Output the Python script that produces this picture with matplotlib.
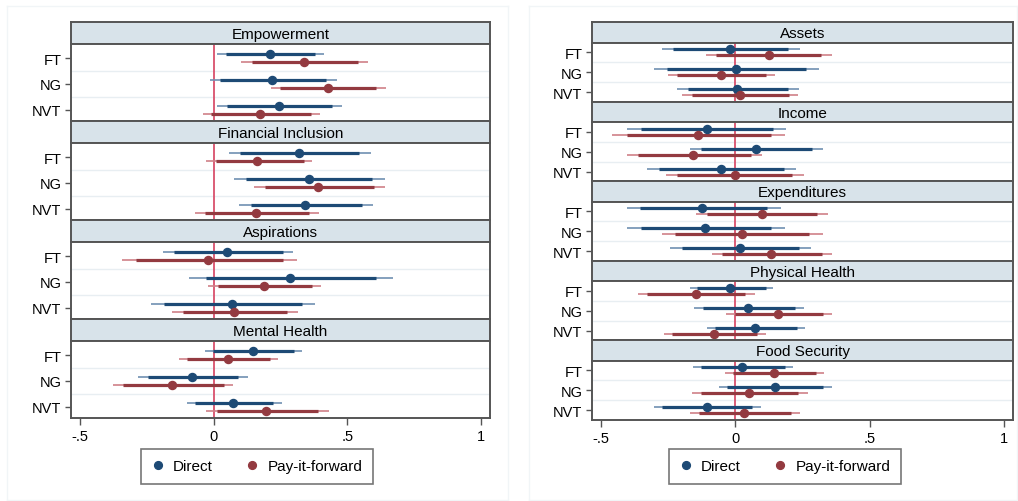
import matplotlib
matplotlib.use("Agg")
import matplotlib.pyplot as plt
from matplotlib.lines import Line2D

plt.rcParams['font.family'] = ['Liberation Sans', 'DejaVu Sans']

groups = ['FT', 'NG', 'NVT']
xtick_vals = [-0.5, 0, 0.5, 1]
xtick_labels = ['-.5', '0', '.5', '1']
series_names = ['Direct', 'Pay-it-forward']

# ---- left block ----
outcomes_L = ['Empowerment', 'Financial Inclusion', 'Aspirations', 'Mental Health']
direct_est_L = [[0.21, 0.219, 0.246], [0.32, 0.355, 0.341], [0.05, 0.285, 0.07], [0.148, -0.081, 0.073]]
direct_lo90_L = [[0.048, 0.023, 0.051], [0.10, 0.12, 0.138], [-0.149, -0.028, -0.184], [-0.003, -0.246, -0.069]]
direct_hi90_L = [[0.379, 0.42, 0.441], [0.544, 0.593, 0.554], [0.258, 0.606, 0.329], [0.301, 0.093, 0.223]]
direct_lo95_L = [[0.013, -0.015, 0.013], [0.056, 0.075, 0.095], [-0.19, -0.093, -0.234], [-0.034, -0.281, -0.10]]
direct_hi95_L = [[0.413, 0.46, 0.48], [0.588, 0.639, 0.595], [0.298, 0.669, 0.378], [0.331, 0.128, 0.254]]
pif_est_L = [[0.338, 0.426, 0.175], [0.164, 0.391, 0.16], [-0.021, 0.188, 0.078], [0.054, -0.154, 0.196]]
pif_lo90_L = [[0.144, 0.248, -0.011], [0.008, 0.191, -0.031], [-0.29, 0.016, -0.115], [-0.099, -0.338, 0.011]]
pif_hi90_L = [[0.538, 0.608, 0.363], [0.338, 0.60, 0.358], [0.258, 0.366, 0.275], [0.21, 0.038, 0.391]]
pif_lo95_L = [[0.104, 0.213, -0.041], [-0.03, 0.15, -0.071], [-0.343, -0.02, -0.155], [-0.129, -0.375, -0.028]]
pif_hi95_L = [[0.576, 0.644, 0.398], [0.369, 0.64, 0.395], [0.311, 0.403, 0.314], [0.239, 0.074, 0.43]]

# ---- right block ----
outcomes_R = ['Assets', 'Income', 'Expenditures', 'Physical Health', 'Food Security']
direct_est_R = [[-0.021, 0.001, 0.007], [-0.107, 0.077, -0.055], [-0.122, -0.112, 0.019], [-0.021, 0.046, 0.072], [0.025, 0.146, -0.107]]
direct_lo90_R = [[-0.23, -0.253, -0.176], [-0.352, -0.129, -0.284], [-0.354, -0.352, -0.199], [-0.143, -0.12, -0.077], [-0.127, -0.03, -0.272]]
direct_hi90_R = [[0.196, 0.262, 0.197], [0.141, 0.285, 0.18], [0.119, 0.134, 0.237], [0.113, 0.221, 0.23], [0.186, 0.326, 0.063]]
direct_lo95_R = [[-0.272, -0.304, -0.216], [-0.403, -0.17, -0.329], [-0.402, -0.402, -0.242], [-0.17, -0.154, -0.106], [-0.158, -0.062, -0.304]]
direct_hi95_R = [[0.24, 0.311, 0.237], [0.19, 0.326, 0.225], [0.169, 0.185, 0.283], [0.139, 0.254, 0.259], [0.215, 0.361, 0.094]]
pif_est_R = [[0.125, -0.055, 0.016], [-0.138, -0.156, -0.001], [0.099, 0.025, 0.134], [-0.148, 0.16, -0.081], [0.143, 0.051, 0.034]]
pif_lo90_R = [[-0.071, -0.217, -0.161], [-0.403, -0.362, -0.217], [-0.105, -0.223, -0.051], [-0.328, 0.0, -0.235], [-0.009, -0.127, -0.135]]
pif_hi90_R = [[0.32, 0.113, 0.199], [0.134, 0.06, 0.212], [0.304, 0.274, 0.324], [0.037, 0.326, 0.081], [0.299, 0.235, 0.208]]
pif_lo95_R = [[-0.108, -0.25, -0.197], [-0.458, -0.403, -0.259], [-0.148, -0.273, -0.086], [-0.362, -0.034, -0.267], [-0.037, -0.161, -0.168]]
pif_hi95_R = [[0.361, 0.146, 0.233], [0.186, 0.1, 0.257], [0.346, 0.326, 0.361], [0.072, 0.36, 0.114], [0.33, 0.27, 0.242]]

BLUE = '#1d4a75'
RED = '#933a40'
BLUE_L = '#6f90b2'
RED_L = '#cf8088'
ZERO = '#d9506c'
STRIP = '#d8e3ea'
FRAME = '#555555'
GRID = '#e8eef2'

W, H = 1018, 502
fig = plt.figure(figsize=(W / 100, H / 100), dpi=100)
fig.patch.set_facecolor('white')


def fa(x0, y0, x1, y1):
    """pixel box -> figure fraction rect"""
    return [x0 / W, 1 - y1 / H, (x1 - x0) / W, (y1 - y0) / H]


# faint outer graph-region borders
for (x0, x1) in [(7, 508), (529, 1017)]:
    ax_bg = fig.add_axes(fa(x0, 7, x1, 501), zorder=-5)
    ax_bg.set_xticks([]); ax_bg.set_yticks([])
    for s in ax_bg.spines.values():
        s.set_color('#f1f5f7'); s.set_linewidth(1.0)
    ax_bg.patch.set_alpha(0)


def draw_block(x0, x1, top, bottom, header_h, outcomes, series, ylim, legend_cx):
    n = len(outcomes)
    ph = (bottom - top) / n
    off = 0.15
    for i, name in enumerate(outcomes):
        pt = top + i * ph
        hax = fig.add_axes(fa(x0, pt, x1, pt + header_h))
        hax.set_facecolor(STRIP)
        hax.set_xticks([]); hax.set_yticks([])
        for s in hax.spines.values():
            s.set_color(FRAME); s.set_linewidth(1.4)
        hax.text(0.5, 0.47, name, ha='center', va='center', fontsize=11, transform=hax.transAxes)

        ax = fig.add_axes(fa(x0, pt + header_h, x1, pt + ph))
        ax.set_xlim(-0.533, 1.033)
        ax.set_ylim(*ylim)
        for s in ax.spines.values():
            s.set_color(FRAME); s.set_linewidth(1.4)
        ax.axvline(0, color=ZERO, lw=1.3, zorder=1)
        for yg in [1.5, 2.5]:
            ax.axhline(yg, color=GRID, lw=1.0, zorder=0)
        for k, (est, lo90, hi90, lo95, hi95, col, coll, sgn) in enumerate(series):
            for j in range(len(groups)):
                y = (j + 1) + sgn * off
                ax.plot([lo95[i][j], hi95[i][j]], [y, y], color=coll, lw=1.2,
                        solid_capstyle='butt', zorder=2)
                ax.plot([lo90[i][j], hi90[i][j]], [y, y], color=col, lw=2.3,
                        solid_capstyle='butt', zorder=3)
                ax.plot([est[i][j]], [y], 'o', color=col, ms=5.8, mec=col, zorder=4)
        ax.set_yticks([1, 2, 3])
        ax.set_yticklabels(groups, fontsize=10.5)
        ax.tick_params(axis='y', length=4, width=1, color=FRAME, pad=3)
        ax.set_xticks(xtick_vals)
        if i == n - 1:
            ax.set_xticklabels(xtick_labels, fontsize=10.5)
            ax.tick_params(axis='x', length=5, width=1, color=FRAME, pad=3)
        else:
            ax.tick_params(axis='x', length=0, labelbottom=False)

    handles = [Line2D([], [], ls='none', marker='o', color=BLUE, ms=5.6),
               Line2D([], [], ls='none', marker='o', color=RED, ms=5.6)]
    leg = fig.legend(handles, series_names, loc='center',
                     bbox_to_anchor=(legend_cx / W, 1 - 467.5 / H), ncol=2,
                     frameon=True, fancybox=False, fontsize=11,
                     handlelength=0.8, handletextpad=0.6, columnspacing=2.2,
                     borderpad=0.7, borderaxespad=0)
    leg.get_frame().set_edgecolor(FRAME)
    leg.get_frame().set_linewidth(1.2)


series_L = [
    (direct_est_L, direct_lo90_L, direct_hi90_L, direct_lo95_L, direct_hi95_L, BLUE, BLUE_L, -1),
    (pif_est_L, pif_lo90_L, pif_hi90_L, pif_lo95_L, pif_hi95_L, RED, RED_L, +1),
]
series_R = [
    (direct_est_R, direct_lo90_R, direct_hi90_R, direct_lo95_R, direct_hi95_R, BLUE, BLUE_L, -1),
    (pif_est_R, pif_lo90_R, pif_hi90_R, pif_lo95_R, pif_hi95_R, RED, RED_L, +1),
]

draw_block(71, 490, 23.3, 419.3, 21.5, outcomes_L, series_L, (3.44, 0.45), 257)
draw_block(592, 1013, 23.3, 421, 20.5, outcomes_R, series_R, (3.485, 0.535), 785)

fig.savefig('out.png', dpi=100, facecolor='white')
